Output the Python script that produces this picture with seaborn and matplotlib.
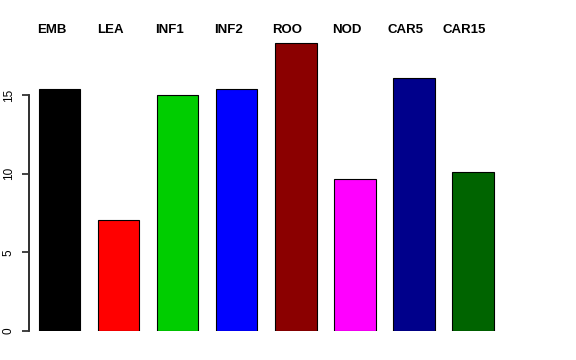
import pandas as pd
import matplotlib
matplotlib.use("Agg")
import matplotlib.pyplot as plt
import matplotlib.transforms as mtransforms
import seaborn as sns

# groups and values
groups = ["EMB", "LEA", "INF1", "INF2", "ROO", "NOD", "CAR5", "CAR15"]
values = [15.4, 7.04, 15.02, 15.38, 18.31, 9.66, 16.06, 10.11]
colors = ["#000000", "#FF0000", "#00CD00", "#0000FF",
          "#8B0000", "#FF00FF", "#00008B", "#006400"]
yticks = [0, 5, 10, 15]

df = pd.DataFrame({"group": groups, "value": values})

sns.set_theme(style="ticks")
plt.rcParams["font.family"] = ["Liberation Sans", "DejaVu Sans"]

fig = plt.figure(figsize=(5.76, 3.6), dpi=100)
# axes placed in pixel terms: left spine at x=28, y=0 at row 331
ax = fig.add_axes([28.5 / 576, 29 / 360, (504 - 28) / 576, (331 - 20) / 360])

sns.barplot(data=df, x="group", y="value", hue="group", palette=colors,
            legend=False, width=0.71, edgecolor="black", linewidth=0.8,
            saturation=1, ax=ax)

ax.set_xlim(-0.525, 7.54)
ax.set_ylim(0, (331 - 20) / 15.73)
ax.set_xticks([])
ax.set_yticks(yticks)
ax.tick_params(axis="y", left=True, length=5, width=1.3, color="#333333",
               labelcolor="black", labelsize=8.5, labelrotation=90, pad=5)
for lab in ax.get_yticklabels():
    lab.set_va("center")
ax.set(xlabel="", ylabel="")

# only the left axis line, from 0 to 15 like base R
ax.spines["left"].set_color("#333333")
ax.spines["left"].set_linewidth(1.3)
ax.spines["left"].set_bounds(0, 15)
ax.spines["left"].set_zorder(10)
for side in ["top", "right", "bottom"]:
    ax.spines[side].set_color("none")

# draw the axis line once more as an unclipped line so it always shows
ytrans = mtransforms.blended_transform_factory(ax.transAxes, ax.transData)
ax.plot([0, 0], [yticks[0], yticks[-1]], transform=ytrans, color="#333333",
        lw=1.3, clip_on=False, zorder=10)

# group names above the bars, in bold
trans = mtransforms.blended_transform_factory(ax.transData, fig.transFigure)
for i, g in enumerate(groups):
    ax.text(i - 0.135, 1 - 30 / 360, g, transform=trans, ha="center",
            va="center", fontsize=9.5, fontweight="bold", color="black",
            clip_on=False)

fig.savefig("out.png", dpi=100)
